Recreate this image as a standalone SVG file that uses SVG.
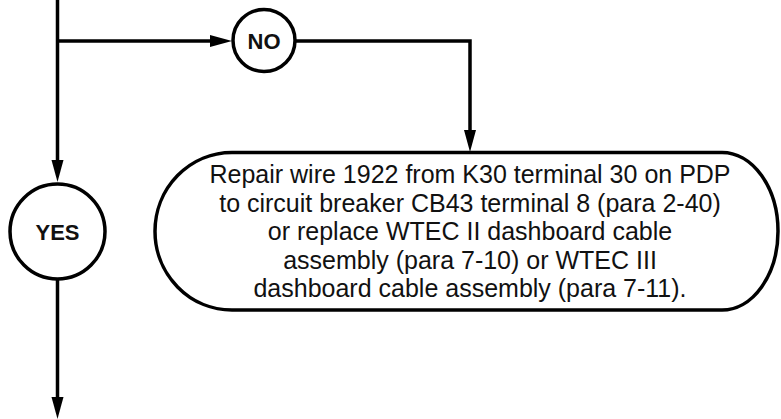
<svg xmlns="http://www.w3.org/2000/svg" width="781" height="419" viewBox="0 0 781 419">
<defs>
<style>
.ln{fill:none;stroke:#000;stroke-width:3.5}
.nd{fill:#fff;stroke:#000;stroke-width:3.5}
.lbl{font-family:"Liberation Sans",Arial,sans-serif;font-weight:bold;font-size:22px;fill:#111;text-anchor:middle}
.txt{font-family:"Liberation Sans",Arial,sans-serif;font-size:25px;fill:#111;text-anchor:middle}
</style>
<marker id="ah" markerUnits="userSpaceOnUse" markerWidth="23" markerHeight="13" refX="1" refY="6.5" orient="auto">
<path d="M0,0.5 L22,6.5 L0,12.5 Z" fill="#000"/>
</marker>
</defs>
<rect width="781" height="419" fill="#fff"/>
<g id="connectors">
<path class="ln" d="M57.5,0 V161" marker-end="url(#ah)"/>
<path class="ln" d="M57.5,41 H211" marker-end="url(#ah)"/>
<path class="ln" d="M296,41 H470 V131" marker-end="url(#ah)"/>
<path class="ln" d="M57.5,280 V398" marker-end="url(#ah)"/>
</g>
<g id="no">
<circle class="nd" cx="264" cy="40.5" r="31"/>
<text class="lbl" x="264" y="48.5">NO</text>
</g>
<g id="yes">
<circle class="nd" cx="57.5" cy="231.5" r="47.5"/>
<text class="lbl" x="57.5" y="239.5">YES</text>
</g>
<g id="repair">
<path class="nd" d="M232,152.5 H722 A56,78.75 0 0 1 722,310 H232 A77,78.75 0 0 1 232,152.5 Z"/>
<text class="txt" x="470" y="183">Repair wire 1922 from K30 terminal 30 on PDP</text>
<text class="txt" x="470" y="211.5">to circuit breaker CB43 terminal 8 (para 2-40)</text>
<text class="txt" x="470" y="240">or replace WTEC II dashboard cable</text>
<text class="txt" x="470" y="268.5">assembly (para 7-10) or WTEC III</text>
<text class="txt" x="470" y="297">dashboard cable assembly (para 7-11).</text>
</g>
</svg>
